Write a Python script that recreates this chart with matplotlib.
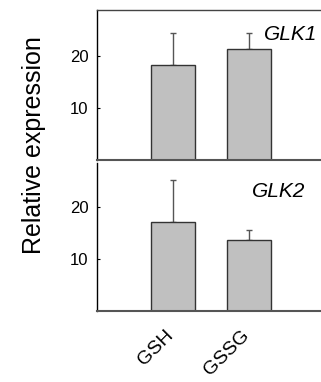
import matplotlib
matplotlib.use("Agg")
import matplotlib.pyplot as plt
from matplotlib.transforms import ScaledTranslation

treatments = ["GSH", "GSSG"]
genes = ["GLK1", "GLK2"]
glk1_mean = [18.2, 21.3]
glk1_err = [6.1, 3.1]
glk2_mean = [17.0, 13.6]
glk2_err = [8.2, 1.9]

plt.rcParams["font.family"] = ["Liberation Sans", "DejaVu Sans"]

fig = plt.figure(figsize=(3.21, 3.82), dpi=100)
ax1 = fig.add_axes([0.302, 0.581, 0.698, 0.393])
ax2 = fig.add_axes([0.302, 0.187, 0.698, 0.385])

panels = [(ax1, glk1_mean, glk1_err, genes[0], 28.8), (ax2, glk2_mean, glk2_err, genes[1], 28.3)]
x = list(range(len(treatments)))
for ax, mean, err, gene, top in panels:
    ax.bar(x, mean, width=0.58, color="#c0c0c0", edgecolor="#333333", linewidth=1.0, zorder=2)
    ax.errorbar(x, mean, yerr=[[0, 0], err], fmt="none", ecolor="#555555",
                elinewidth=1.0, capsize=2, capthick=1.0, zorder=1)
    ax.set_xlim(-1.0, 1.95)
    ax.set_ylim(0, top)
    ax.set_yticks([10, 20])
    ax.tick_params(axis="y", direction="in", length=2, width=0.8, labelsize=12, pad=6)
    ax.spines["right"].set_visible(False)
    ax.spines["left"].set_linewidth(1.0)
    ax.spines["bottom"].set_color("#555555")
    ax.spines["bottom"].set_linewidth(1.5)

ax1.spines["top"].set_color("#444444")
ax1.spines["top"].set_linewidth(1.0)
ax2.spines["top"].set_visible(False)

ax1.set_xticks([])
ax1.text(0.985, 0.80, genes[0], transform=ax1.transAxes, ha="right", va="baseline",
         fontsize=15, style="italic")
ax2.text(0.93, 0.77, genes[1], transform=ax2.transAxes, ha="right", va="baseline",
         fontsize=15, style="italic")

ax2.set_xticks(x)
ax2.set_xticklabels(treatments, rotation=45, ha="right", rotation_mode="anchor", fontsize=14)
ax2.tick_params(axis="x", length=0, pad=12)
shift = ScaledTranslation(-8 / 100, 0, fig.dpi_scale_trans)
for lbl in ax2.get_xticklabels():
    lbl.set_transform(lbl.get_transform() + shift)

fig.text(0.105, 0.62, "Relative expression", rotation=90, ha="center", va="center", fontsize=18)

fig.savefig("out.png", dpi=100)
